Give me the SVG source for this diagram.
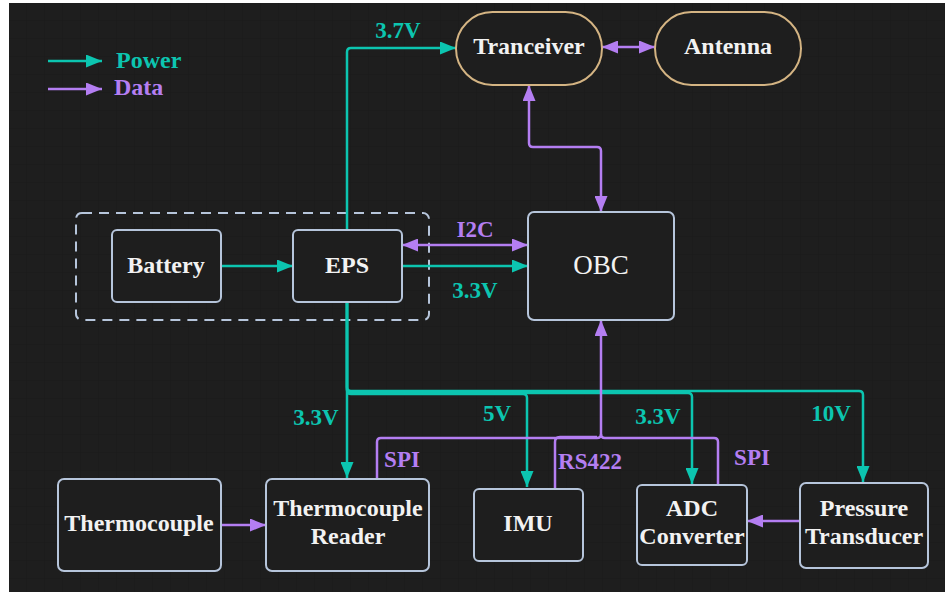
<svg xmlns="http://www.w3.org/2000/svg" width="945" height="592" viewBox="0 0 945 592">
<style>
.bg{fill:#1e1e1e}
.node{fill:#1e1e1e;stroke:#b6c5db;stroke-width:2}
.pill{fill:#1e1e1e;stroke:#d4b483;stroke-width:2}
.t{font-family:"Liberation Serif",serif;font-weight:bold;font-size:24px;fill:#f2f2f2;text-anchor:middle}
.obc{font-family:"Liberation Serif",serif;font-size:27px;fill:#f2f2f2;text-anchor:middle}
.lp{font-family:"Liberation Serif",serif;font-weight:bold;font-size:23px;fill:#0cc5b0;text-anchor:middle}
.ld{font-family:"Liberation Serif",serif;font-weight:bold;font-size:23px;fill:#b47ef2;text-anchor:middle}
.pw{fill:none;stroke:#0cc5b0;stroke-width:2.5}
.da{fill:none;stroke:#b47ef2;stroke-width:2.5}
.pwa{marker-end:url(#mt)}
.daa{marker-end:url(#mp)}
.dab{marker-start:url(#mp);marker-end:url(#mp)}
</style>
<defs>
<pattern id="grid" width="18" height="18" patternUnits="userSpaceOnUse" x="9" y="3">
<path d="M18,0 V18 M0,18 H18" fill="none" stroke="#191919" stroke-width="1"/>
</pattern>
<marker id="mt" markerUnits="userSpaceOnUse" markerWidth="17" markerHeight="13" refX="16" refY="6.5" orient="auto-start-reverse" viewBox="0 0 17 13">
<path d="M0,0 L16,6.5 L0,13 z" fill="#0cc5b0"/>
</marker>
<marker id="mp" markerUnits="userSpaceOnUse" markerWidth="17" markerHeight="13" refX="16" refY="6.5" orient="auto-start-reverse" viewBox="0 0 17 13">
<path d="M0,0 L16,6.5 L0,13 z" fill="#b47ef2"/>
</marker>
</defs>
<rect x="0" y="0" width="945" height="592" fill="#ffffff"/>
<rect class="bg" x="9" y="3" width="936" height="589"/>
<rect x="9" y="3" width="936" height="589" fill="url(#grid)"/>

<g id="legend">
<path class="pw pwa" d="M48,61 H102"/>
<path class="da daa" d="M48,89 H102"/>
<text x="116" y="68" class="lp" style="text-anchor:start;font-size:24px">Power</text>
<text x="114" y="95" class="ld" style="text-anchor:start;font-size:24px">Data</text>
</g>

<g id="eps-group">
<rect x="76" y="213" width="353" height="107" rx="6" fill="none" stroke="#b6c5db" stroke-width="2" stroke-dasharray="10 7"/>
</g>

<g id="connectors">
<path class="pw pwa" d="M221,266 H293"/>
<path class="pw pwa" d="M402,266 H528"/>
<path class="da dab" d="M402,245 H528"/>
<path class="pw pwa" d="M347,230 V52 Q347,48 351,48 H456"/>
<path class="da dab" d="M602,47 H655"/>
<path class="da dab" d="M529,85 V143 Q529,147 533,147 H597 Q601,147 601,151 V212"/>
<path class="pw pwa" d="M347,302 V478"/>
<path class="pw pwa" d="M347,302 V390 Q347,394 351,394 H523 Q527,394 527,398 V487"/>
<path class="pw pwa" d="M347,302 V389 Q347,393 351,393 H688 Q692,393 692,397 V484"/>
<path class="pw pwa" d="M347,302 V387 Q347,391 351,391 H859 Q863,391 863,395 V482"/>
<path class="da daa" d="M377,479 V442 Q377,438 381,438 H597 Q601,438 601,434 V320"/>
<path class="da" d="M718,485 V442 Q718,438 714,438 H605 Q601,438 601,434"/>
<path class="da" d="M555,489 V442 Q555,437 560,437 H597"/>
<path class="da daa" d="M221,525 H266"/>
<path class="da daa" d="M800,521 H747"/>
</g>

<g id="labels">
<text x="398" y="38" class="lp">3.7V</text>
<text x="475" y="237" class="ld">I2C</text>
<text x="475" y="298" class="lp">3.3V</text>
<text x="316" y="425" class="lp">3.3V</text>
<text x="497" y="421" class="lp">5V</text>
<text x="658" y="424" class="lp">3.3V</text>
<text x="831" y="421" class="lp">10V</text>
<text x="402" y="467" class="ld">SPI</text>
<text x="590" y="469" class="ld">RS422</text>
<text x="752" y="465" class="ld">SPI</text>
</g>

<g id="tranceiver">
<rect class="pill" x="456" y="12" width="146" height="73" rx="36.5"/>
<text x="529" y="54" class="t">Tranceiver</text>
</g>
<g id="antenna">
<rect class="pill" x="655" y="12" width="146" height="73" rx="36.5"/>
<text x="728" y="54" class="t">Antenna</text>
</g>
<g id="battery">
<rect class="node" x="112" y="230" width="109" height="72" rx="5"/>
<text x="166" y="273" class="t">Battery</text>
</g>
<g id="eps">
<rect class="node" x="293" y="230" width="109" height="72" rx="5"/>
<text x="347" y="273" class="t">EPS</text>
</g>
<g id="obc">
<rect class="node" x="528" y="212" width="146" height="108" rx="6"/>
<text x="601" y="274" class="obc">OBC</text>
</g>
<g id="thermocouple">
<rect class="node" x="58" y="479" width="163" height="92" rx="6"/>
<text x="139" y="531" class="t">Thermocouple</text>
</g>
<g id="thermocouple-reader">
<rect class="node" x="266" y="479" width="163" height="92" rx="6"/>
<text x="348" y="516" class="t">Thermocouple</text>
<text x="348" y="544" class="t">Reader</text>
</g>
<g id="imu">
<rect class="node" x="474" y="489" width="109" height="72" rx="5"/>
<text x="528" y="531" class="t">IMU</text>
</g>
<g id="adc">
<rect class="node" x="637" y="485" width="110" height="80" rx="5"/>
<text x="692" y="516" class="t">ADC</text>
<text x="692" y="544" class="t">Converter</text>
</g>
<g id="pressure">
<rect class="node" x="800" y="483" width="128" height="85" rx="6"/>
<text x="864" y="516" class="t">Pressure</text>
<text x="864" y="544" class="t">Transducer</text>
</g>
</svg>
